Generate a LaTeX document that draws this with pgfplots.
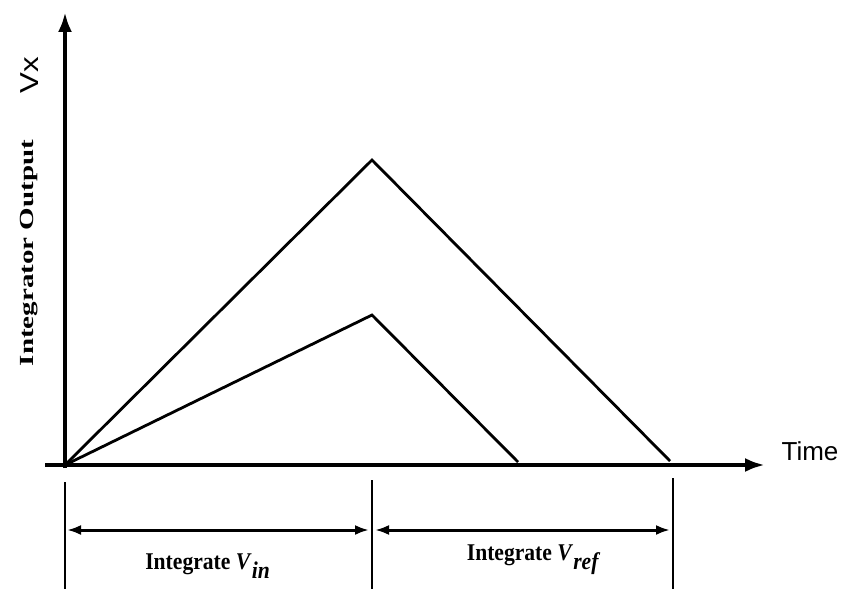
\documentclass[border=0pt]{standalone}
\usepackage{pgfplots}
\pgfplotsset{compat=1.18}
\usetikzlibrary{arrows.meta}
\usepackage{graphicx}
\usepackage{fontspec}
\setmainfont{Liberation Serif}
\newfontfamily\sansf{Liberation Sans}
\begin{document}
\begin{tikzpicture}
\begin{axis}[
  scale only axis, width=423pt, height=294.5pt,
  xmin=0, xmax=846, ymin=0, ymax=589,
  hide axis, clip=false,
]
\path (rel axis cs:0,0) rectangle (rel axis cs:1,1);
% axes
\addplot[black, line width=2.2pt, -{Latex[length=10pt,width=7pt]}] coordinates {(65,121) (65,577)};
\addplot[black, line width=2.2pt, -{Latex[length=10pt,width=7pt]}] coordinates {(45,124) (765,124)};
% integrator output ramps
\addplot[black, line width=1.4pt] coordinates {(65,124) (372,429) (670,128)};
\addplot[black, line width=1.4pt] coordinates {(65,124) (372,274) (518,127)};
% vertical markers
\addplot[black, line width=1pt] coordinates {(65,107) (65,0)};
\addplot[black, line width=1pt] coordinates {(372,109) (372,0)};
\addplot[black, line width=1pt] coordinates {(673,111) (673,0)};
% double arrows
\addplot[black, line width=1.5pt, {Latex[length=7pt,width=5pt]}-{Latex[length=7pt,width=5pt]}] coordinates {(67,59) (369,59)};
\addplot[black, line width=1.5pt, {Latex[length=7pt,width=5pt]}-{Latex[length=7pt,width=5pt]}] coordinates {(375,59) (670,59)};
% labels
\node[font=\bfseries\fontsize{12}{14}\selectfont] at (axis cs:208,23) {\scalebox{0.9}[1]{Integrate \textit{V}$_{\textbf{\textit{in}}}$}};
\node[font=\bfseries\fontsize{12}{14}\selectfont] at (axis cs:534,29) {\scalebox{0.9}[1]{Integrate \textit{V}$_{\textbf{\textit{ref}}}$}};
\node[font=\sansf\fontsize{13}{15}\selectfont] at (axis cs:810,138) {Time};
\node[font=\sansf\fontsize{13}{15}\selectfont, rotate=90] at (axis cs:30,514) {\scalebox{1.2}[1]{Vx}};
\node[font=\bfseries\fontsize{10}{12}\selectfont, rotate=90] at (axis cs:29,336) {\scalebox{1.45}[1]{Integrator Output}};
\end{axis}
\end{tikzpicture}
\end{document}
